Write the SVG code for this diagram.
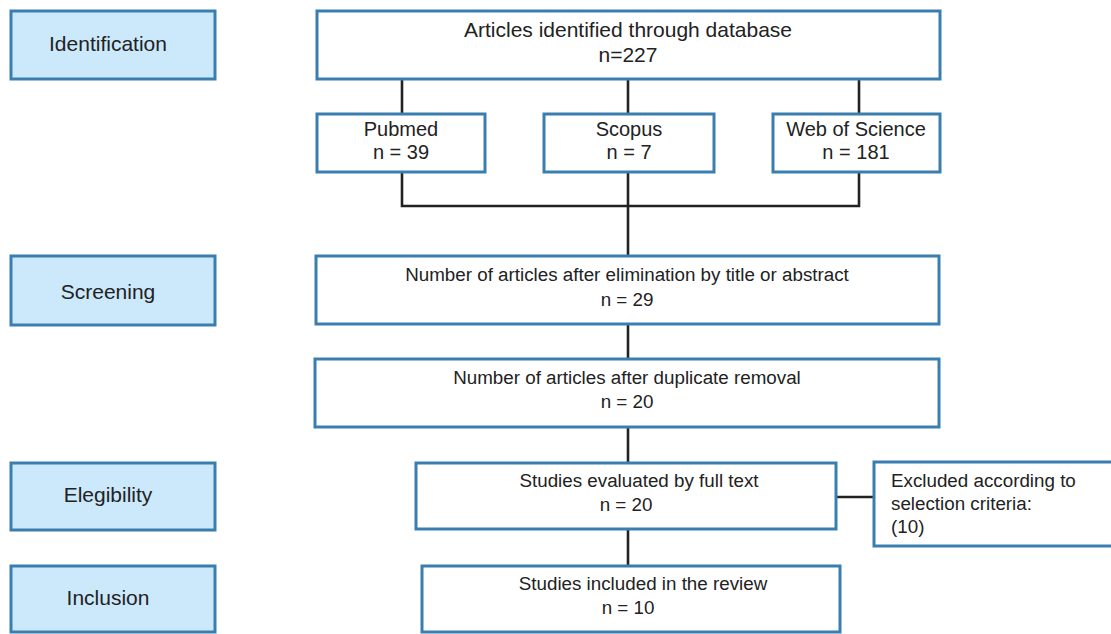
<svg xmlns="http://www.w3.org/2000/svg" width="1111" height="634" viewBox="0 0 1111 634">
<style>
.phase{fill:#cce9fb;stroke:#3a7eb0;stroke-width:3}
.box{fill:#ffffff;stroke:#3a7eb0;stroke-width:3}
.t{font-family:"Liberation Sans",Arial,sans-serif;fill:#222;text-anchor:middle}
.l21{font-size:21px}
.l20{font-size:20px}
.l19{font-size:18.8px}
.left{text-anchor:start}
.conn{fill:none;stroke:#222;stroke-width:2.6}
</style>
<rect width="1111" height="634" fill="#ffffff"/>
<g id="connectors">
<path class="conn" d="M402 79V113M628 79V113M859 79V113"/>
<path class="conn" d="M402 172V206H859V172M628 172V255"/>
<path class="conn" d="M628 325V358M628 427V462M628 529V566"/>
<path class="conn" d="M836 497H874"/>
</g>
<g id="identification"><rect class="phase" x="11" y="11" width="204" height="68"/><text class="t l21" x="108" y="51">Identification</text></g>
<g id="screening"><rect class="phase" x="11" y="256" width="204" height="69"/><text class="t l21" x="108" y="299">Screening</text></g>
<g id="elegibility"><rect class="phase" x="11" y="463" width="204" height="67"/><text class="t l21" x="108" y="502">Elegibility</text></g>
<g id="inclusion"><rect class="phase" x="11" y="566" width="204" height="66"/><text class="t l21" x="108" y="605">Inclusion</text></g>
<g id="articles"><rect class="box" x="317" y="11" width="623" height="68"/><text class="t l21" x="628" y="37">Articles identified through database</text><text class="t l21" x="628" y="62">n=227</text></g>
<g id="pubmed"><rect class="box" x="317" y="114" width="168" height="58"/><text class="t l20" x="401" y="136">Pubmed</text><text class="t l20" x="401" y="159">n = 39</text></g>
<g id="scopus"><rect class="box" x="544" y="114" width="170" height="58"/><text class="t l20" x="629" y="136">Scopus</text><text class="t l20" x="629" y="159">n = 7</text></g>
<g id="wos"><rect class="box" x="773" y="114" width="167" height="58"/><text class="t l20" x="856" y="136">Web of Science</text><text class="t l20" x="856" y="159">n = 181</text></g>
<g id="elimination"><rect class="box" x="316" y="256" width="623" height="68"/><text class="t l19" x="627" y="281">Number of articles after elimination by title or abstract</text><text class="t l19" x="627" y="306">n = 29</text></g>
<g id="duplicates"><rect class="box" x="315" y="359" width="624" height="68"/><text class="t l19" x="627" y="384">Number of articles after duplicate removal</text><text class="t l19" x="627" y="408">n = 20</text></g>
<g id="fulltext"><rect class="box" x="416" y="463" width="420" height="66"/><text class="t l19" x="639" y="487">Studies evaluated by full text</text><text class="t l19" x="626" y="511">n = 20</text></g>
<g id="excluded"><rect class="box" x="874" y="462" width="245" height="84"/><text class="t l19 left" x="891" y="487">Excluded according to</text><text class="t l19 left" x="891" y="510">selection criteria:</text><text class="t l19 left" x="891" y="533">(10)</text></g>
<g id="included"><rect class="box" x="422" y="566" width="418" height="66"/><text class="t l19" x="643" y="590">Studies included in the review</text><text class="t l19" x="628" y="614">n = 10</text></g>
</svg>
